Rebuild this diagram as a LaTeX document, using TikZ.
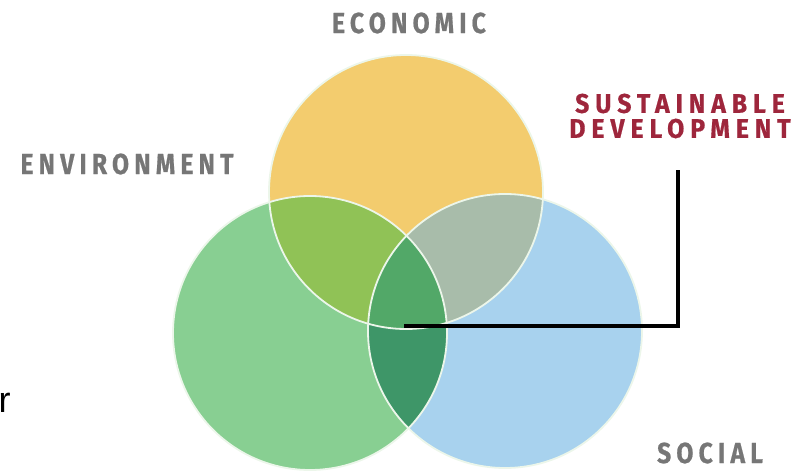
\documentclass[tikz,border=0pt]{standalone}
\usepackage{fontspec}
\setmainfont{Fira Sans}
\newfontfamily\labelfont[FakeStretch=0.85,LetterSpace=18,FakeBold=0.6]{Fira Sans}
\newfontfamily\sdfont[FakeStretch=0.92,LetterSpace=22,FakeBold=0.6]{Fira Sans}
\newfontfamily\strayfont{Liberation Sans}
\usetikzlibrary{positioning}
\definecolor{econcolor}{RGB}{243,204,110}
\definecolor{envcolor}{RGB}{136,207,146}
\definecolor{soccolor}{RGB}{168,210,238}
\definecolor{econenv}{RGB}{144,194,86}
\definecolor{econsoc}{RGB}{168,188,170}
\definecolor{envsoc}{RGB}{62,150,104}
\definecolor{allcolor}{RGB}{82,168,104}
\definecolor{rimcolor}{RGB}{236,246,234}
\definecolor{greytext}{RGB}{118,118,118}
\definecolor{redtext}{RGB}{158,38,60}
\def\rad{137}
\tikzset{
  setcircle/.style = {draw=rimcolor, line width=1.8pt},
  setlabel/.style  = {font=\labelfont\bfseries\fontsize{29}{30}\selectfont,
                      text=greytext, inner sep=0pt},
  sdlabel/.style   = {setlabel, text=redtext, align=center,
                      font=\sdfont\bfseries\fontsize{27}{25}\selectfont},
  leader/.style    = {line width=4.5pt, draw=black}
}

\begin{document}
\begin{tikzpicture}[x=1pt,y=-1pt]
\useasboundingbox (0,0) rectangle (807,471);

% -------------------- Circles --------------------
\coordinate (econ) at (406,192);
\coordinate (env)  at (310,333);
\coordinate (soc)  at (505,331);

\fill[econcolor] (econ) circle (\rad);
\fill[envcolor]  (env)  circle (\rad);
\fill[soccolor]  (soc)  circle (\rad);

% -------------------- Overlaps --------------------
\begin{scope}
  \clip (econ) circle (\rad);
  \fill[econenv] (env) circle (\rad);
  \fill[econsoc] (soc) circle (\rad);
\end{scope}
\begin{scope}
  \clip (env) circle (\rad);
  \fill[envsoc] (soc) circle (\rad);
  \clip (soc) circle (\rad);
  \fill[allcolor] (econ) circle (\rad);
\end{scope}

% light rims
\foreach \c in {econ,env,soc}{
  \draw[setcircle] (\c) circle (\rad);
}

% -------------------- Labels --------------------
\node[setlabel] (econlbl) at (409,23)  {ECONOMIC};
\node[setlabel] (envlbl)  at (127,164) {ENVIRONMENT};
\node[setlabel] (soclbl)  at (710,453) {SOCIAL};
\node[sdlabel]  (sd)      at (680,116) {SUSTAINABLE\\DEVELOPMENT};
\node[font=\strayfont\fontsize{36}{36}\selectfont, inner sep=0pt] (stray) at (4.5,403) {r};

% -------------------- Leader line --------------------
\coordinate (hub)   at (404,326);
\coordinate (ldtop) at (678,170);
\draw[leader] (hub) -| (ldtop);

\end{tikzpicture}
\end{document}
